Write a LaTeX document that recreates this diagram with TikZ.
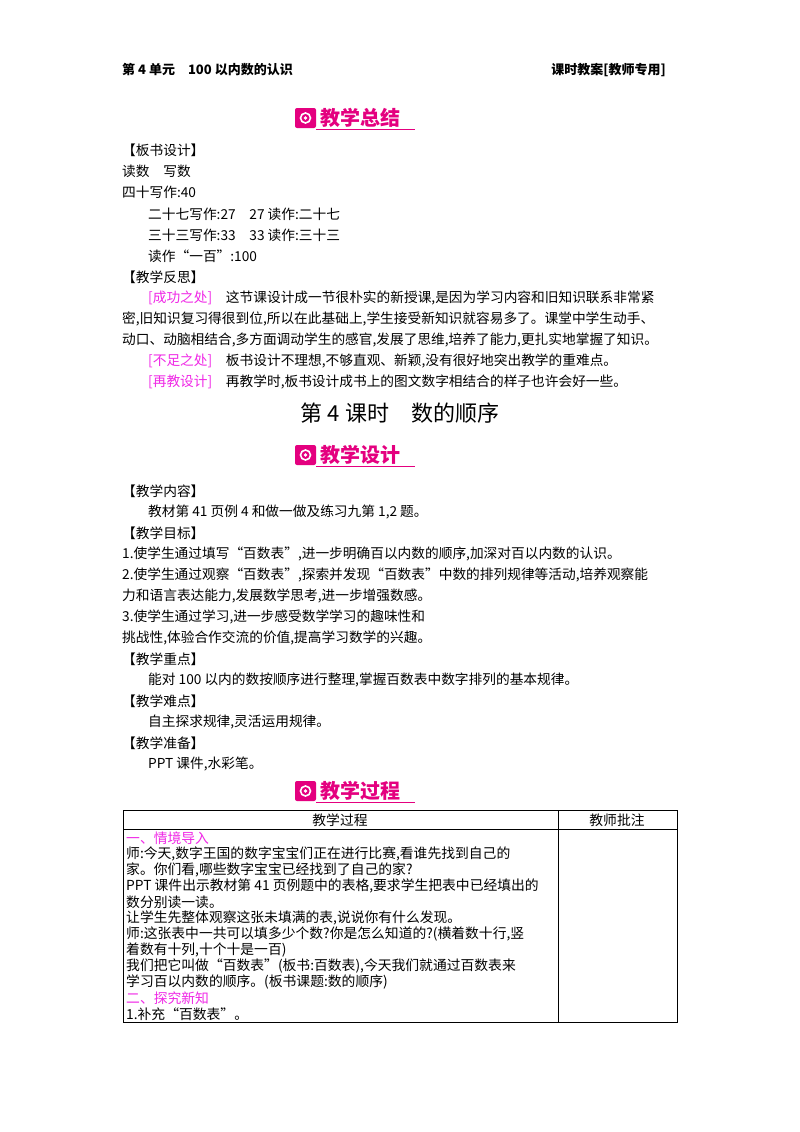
\documentclass[tikz,border=0pt]{standalone}
\usepackage{fontspec}
\setmainfont{Noto Sans CJK SC}
\definecolor{mag}{RGB}{228,0,127}
\definecolor{pk}{RGB}{240,40,230}
\begin{document}
\begin{tikzpicture}[x=1pt,y=-1pt,
  t/.style={anchor=west,inner sep=0pt,font=\fontsize{13.7}{16}\selectfont},
  s/.style={anchor=west,inner sep=0pt,font=\fontsize{13.8}{15}\selectfont},
  hd/.style={anchor=west,inner sep=0pt,font=\fontsize{13}{15}\selectfont\bfseries}]
\useasboundingbox (0,0) rectangle (800,1132);
\fill[white] (0,0) rectangle (800,1132);
\newcommand\badge[3]{%
  \fill[mag,rounded corners=2pt] (#1,#2-10) rectangle (#1+21,#2+10);
  \draw[white,line width=1.6pt] (#1+10.5,#2) circle (5);
  \fill[white] (#1+10.5,#2) circle (1.8);
  \draw[mag,line width=0.8pt] (#1+21,#2+11) -- (#1+120,#2+11);
  \node[anchor=west,inner sep=0pt,text=mag,font=\fontsize{20}{22}\selectfont\bfseries] at (#1+25,#2) {#3};}
\node[hd] (h1) at (122,70) {第 4 单元\quad 100 以内数的认识};
\node[hd,anchor=east] (h2) at (666,70) {课时教案[教师专用]};
\badge{295}{118}{教学总结}
\node[t] (a1) at (122,150) {【板书设计】};
\node[t] (a2) at (122,171) {读数\quad 写数};
\node[t] (a3) at (122,192) {四十写作:40};
\node[t] (a4) at (148,214) {二十七写作:27\quad 27 读作:二十七};
\node[t] (a5) at (148,235) {三十三写作:33\quad 33 读作:三十三};
\node[t] (a6) at (148,256) {读作“一百”:100};
\node[t] (a7) at (122,277) {【教学反思】};
\node[t] (a8) at (148,298) {\textcolor{pk}{[成功之处]}\quad 这节课设计成一节很朴实的新授课,是因为学习内容和旧知识联系非常紧};
\node[t] (a9) at (122,319) {密,旧知识复习得很到位,所以在此基础上,学生接受新知识就容易多了。课堂中学生动手、};
\node[t] (a10) at (122,340) {动口、动脑相结合,多方面调动学生的感官,发展了思维,培养了能力,更扎实地掌握了知识。};
\node[t] (a11) at (148,361) {\textcolor{pk}{[不足之处]}\quad 板书设计不理想,不够直观、新颖,没有很好地突出教学的重难点。};
\node[t] (a12) at (148,382) {\textcolor{pk}{[再教设计]}\quad 再教学时,板书设计成书上的图文数字相结合的样子也许会好一些。};
\node[inner sep=0pt,font=\fontsize{22}{24}\selectfont] (ti) at (400,413) {第 4 课时\quad 数的顺序};
\badge{295}{455}{教学设计}
\node[t] (b1) at (122,491) {【教学内容】};
\node[t] (b2) at (148,512) {教材第 41 页例 4 和做一做及练习九第 1,2 题。};
\node[t] (b3) at (122,533) {【教学目标】};
\node[t] (b4) at (122,554) {1.使学生通过填写“百数表”,进一步明确百以内数的顺序,加深对百以内数的认识。};
\node[t] (b5) at (122,575) {2.使学生通过观察“百数表”,探索并发现“百数表”中数的排列规律等活动,培养观察能};
\node[t] (b6) at (122,596) {力和语言表达能力,发展数学思考,进一步增强数感。};
\node[t] (b7) at (122,617) {3.使学生通过学习,进一步感受数学学习的趣味性和};
\node[t] (b8) at (122,638) {挑战性,体验合作交流的价值,提高学习数学的兴趣。};
\node[t] (b9) at (122,659) {【教学重点】};
\node[t] (b10) at (148,680) {能对 100 以内的数按顺序进行整理,掌握百数表中数字排列的基本规律。};
\node[t] (b11) at (122,701) {【教学难点】};
\node[t] (b12) at (148,722) {自主探求规律,灵活运用规律。};
\node[t] (b13) at (122,743) {【教学准备】};
\node[t] (b14) at (148,764) {PPT 课件,水彩笔。};
\badge{295}{791}{教学过程}
\draw[line width=1pt] (123,810) rectangle (677,1022);
\draw[line width=0.8pt] (123,829) -- (677,829) (558,810) -- (558,1022);
\node[s,anchor=center] (c0) at (340,820) {教学过程};
\node[s,anchor=center] (c00) at (617,820) {教师批注};
\node[s,text=pk] (c1) at (126,838) {一、情境导入};
\node[s] (c2) at (126,854) {师:今天,数字王国的数字宝宝们正在进行比赛,看谁先找到自己的};
\node[s] (c3) at (126,870) {家。你们看,哪些数字宝宝已经找到了自己的家?};
\node[s] (c4) at (126,886) {PPT 课件出示教材第 41 页例题中的表格,要求学生把表中已经填出的};
\node[s] (c5) at (126,902) {数分别读一读。};
\node[s] (c6) at (126,918) {让学生先整体观察这张未填满的表,说说你有什么发现。};
\node[s] (c7) at (126,934) {师:这张表中一共可以填多少个数?你是怎么知道的?(横着数十行,竖};
\node[s] (c8) at (126,950) {着数有十列,十个十是一百)};
\node[s] (c9) at (126,966) {我们把它叫做“百数表”(板书:百数表),今天我们就通过百数表来};
\node[s] (c10) at (126,982) {学习百以内数的顺序。(板书课题:数的顺序)};
\node[s,text=pk] (c11) at (126,998) {二、探究新知};
\node[s] (c12) at (126,1014) {1.补充“百数表”。};
\end{tikzpicture}
\end{document}
